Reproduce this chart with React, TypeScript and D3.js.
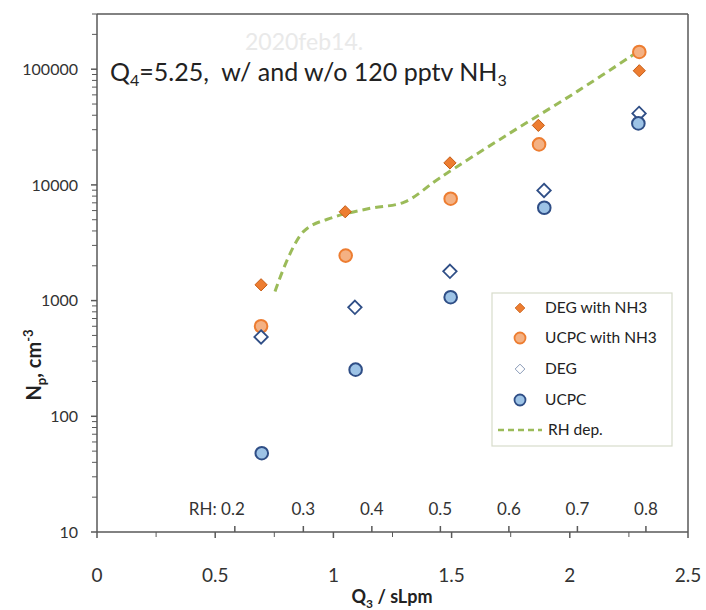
import React from "react";
import * as d3 from "d3";

// ---- data ----
const degNH3Q = [0.694, 1.05, 1.493, 1.867, 2.294];
const degNH3N = [1370, 5860, 15500, 32700, 97000];

const ucpcNH3Q = [0.694, 1.052, 1.496, 1.87, 2.294];
const ucpcNH3N = [600, 2450, 7600, 22400, 141000];

const degQ = [0.694, 1.091, 1.493, 1.891, 2.293];
const degN = [485, 875, 1790, 8950, 41500];

const ucpcQ = [0.697, 1.094, 1.496, 1.892, 2.29];
const ucpcN = [48, 253, 1070, 6350, 34000];

const rhDepQ = [0.753, 0.873, 1.0, 1.16, 1.3, 1.45, 1.74, 2.03, 2.284];
const rhDepN = [1200, 3950, 5250, 6300, 7100, 11500, 27500, 64000, 140000];

const xTicks = [0, 0.5, 1, 1.5, 2, 2.5];
const xMinorTicks = [0.25, 0.75, 1.25, 1.75, 2.25];
const yTicks = [10, 100, 1000, 10000, 100000];
const rhTicks = [0.2, 0.3, 0.4, 0.5, 0.6, 0.7, 0.8];

const legendLabels = ["DEG with NH3", "UCPC with NH3", "DEG", "UCPC", "RH dep."];

const W = 706;
const H = 610;
const L = 97, T = 14, R = 688, B = 532;
const FONT = "Lato, 'Open Sans', sans-serif";

const zip = (a: number[], b: number[]) => a.map((v, i) => [v, b[i]] as [number, number]);

export default function App() {
  const x = d3.scaleLinear().domain([0, 2.5]).range([L, R]);
  const y = d3.scaleLog().domain([10, 300000]).range([B, T]);
  const rhToQ = d3.scaleLinear().domain([0.2, 0.8]).range([0.583, 2.322]);

  const yMinor: number[] = [];
  for (let dec = 10; dec <= 100000; dec *= 10) {
    for (let k = 2; k <= 9; k++) {
      const v = dec * k;
      if (v <= 300000) yMinor.push(v);
    }
  }

  const line = d3
    .line<[number, number]>()
    .x((d) => x(d[0]))
    .y((d) => y(d[1]))
    .curve(d3.curveCatmullRom.alpha(0.5));

  const diamond = (s: number) => d3.symbol().type(d3.symbolDiamond2).size(s)() as string;

  const cOrange = "#ED7D31";
  const cOrangeDark = "#C55A11";
  const cOrangeLight = "#F4B183";
  const cBlueDark = "#2F4E86";
  const cBlueLight = "#9DC3E6";
  const cGreen = "#9BBB59";
  const axisCol = "#595959";

  const legX = 520, legTextX = 545;
  const legRows = [308, 338, 369, 400, 430];

  return (
    <svg
      width={W}
      height={H}
      style={{ position: "absolute", left: 0, top: 0, background: "#fff" }}
      fontFamily={FONT}
    >
      <rect x={0} y={0} width={W} height={H} fill="#fff" />
      {/* watermark */}
      <text x={245} y={50} fontSize={23} fill="#e9e9e9">2020feb14.</text>

      {/* frame */}
      <line x1={L} y1={T} x2={R} y2={T} stroke={axisCol} strokeWidth={1.5} />
      <line x1={R} y1={T} x2={R} y2={B} stroke={axisCol} strokeWidth={1.5} />

      {/* y axis */}
      <line x1={L} y1={T} x2={L} y2={B} stroke={axisCol} strokeWidth={1.5} />
      {yMinor.map((v) => (
        <line key={"ym" + v} x1={L - 5} x2={L} y1={y(v)} y2={y(v)} stroke={axisCol} strokeWidth={1} />
      ))}
      {yTicks.map((v) => (
        <g key={"y" + v}>
          <line x1={L - 6} x2={L} y1={y(v)} y2={y(v)} stroke={axisCol} strokeWidth={1.5} />
          <text x={78} y={y(v)} dy="0.35em" textAnchor="end" fontSize={16} fill="#333">
            {v}
          </text>
        </g>
      ))}

      {/* x axis */}
      <line x1={L} y1={B} x2={R} y2={B} stroke={axisCol} strokeWidth={1.5} />
      {xMinorTicks.map((v) => (
        <line key={"xm" + v} x1={x(v)} x2={x(v)} y1={B} y2={B + 5} stroke={axisCol} strokeWidth={1} />
      ))}
      {xTicks.map((v) => (
        <g key={"x" + v}>
          <line x1={x(v)} x2={x(v)} y1={B} y2={B + 6} stroke={axisCol} strokeWidth={1.5} />
          <text x={x(v)} y={575} dy="0.35em" textAnchor="middle" fontSize={19} fill="#333">
            {v}
          </text>
        </g>
      ))}

      {/* RH secondary axis */}
      {rhTicks.map((v, i) => (
        <g key={"rh" + v}>
          <line x1={x(rhToQ(v))} x2={x(rhToQ(v))} y1={B} y2={B - 6} stroke={axisCol} strokeWidth={1.5} />
          <text
            x={i === 0 ? x(rhToQ(v)) + 10 : x(rhToQ(v))}
            y={509}
            dy="0.35em"
            textAnchor={i === 0 ? "end" : "middle"}
            fontSize={17}
            fill="#333"
          >
            {i === 0 ? "RH: " + v : v.toFixed(1)}
          </text>
        </g>
      ))}

      {/* axis titles */}
      <text x={392} y={597} dy="0.35em" textAnchor="middle" fontSize={18} fontWeight="bold" fill="#222">
        Q<tspan fontSize={12} dy={5}>3</tspan>
        <tspan dy={-5}> / sLpm</tspan>
      </text>
      <text
        transform={`translate(34,365) rotate(-90)`}
        textAnchor="middle"
        dy="0.35em"
        fontSize={20}
        fontWeight="bold"
        fill="#222"
      >
        N<tspan fontSize={13} dy={5}>p</tspan>
        <tspan dy={-5}>, cm</tspan>
        <tspan fontSize={13} dy={-8}>-3</tspan>
      </text>

      {/* chart title */}
      <text x={110} y={81} fontSize={25} fill="#222" style={{ whiteSpace: "pre" }}>
        Q<tspan fontSize={16} dy={5}>4</tspan>
        <tspan dy={-5}>{"=5.25,  w/ and w/o 120 pptv NH"}</tspan>
        <tspan fontSize={16} dy={5}>3</tspan>
      </text>

      {/* RH dep line */}
      <path
        d={line(zip(rhDepQ, rhDepN)) as string}
        fill="none"
        stroke={cGreen}
        strokeWidth={3}
        strokeDasharray="8,5"
      />

      {/* DEG with NH3 */}
      {zip(degNH3Q, degNH3N).map(([q, n], i) => (
        <path
          key={"dn" + i}
          d={diamond(95)}
          transform={`translate(${x(q)},${y(n)})`}
          fill={cOrange}
          stroke={cOrangeDark}
          strokeWidth={1}
        />
      ))}
      {/* UCPC with NH3 */}
      {zip(ucpcNH3Q, ucpcNH3N).map(([q, n], i) => (
        <circle key={"un" + i} cx={x(q)} cy={y(n)} r={6.3} fill={cOrangeLight} stroke={cOrange} strokeWidth={2} />
      ))}
      {/* DEG */}
      {zip(degQ, degN).map(([q, n], i) => (
        <path
          key={"d" + i}
          d={diamond(115)}
          transform={`translate(${x(q)},${y(n)})`}
          fill="#fff"
          stroke={cBlueDark}
          strokeWidth={1.8}
        />
      ))}
      {/* UCPC */}
      {zip(ucpcQ, ucpcN).map(([q, n], i) => (
        <circle key={"u" + i} cx={x(q)} cy={y(n)} r={6.3} fill={cBlueLight} stroke={cBlueDark} strokeWidth={2} />
      ))}

      {/* legend */}
      <rect x={492} y={293} width={180} height={153} fill="#fff" stroke="#d8dccb" strokeWidth={1.2} />
      <path d={diamond(60)} transform={`translate(${legX},${legRows[0]})`} fill={cOrange} stroke={cOrangeDark} strokeWidth={0.8} />
      <circle cx={legX} cy={legRows[1]} r={5.5} fill={cOrangeLight} stroke={cOrange} strokeWidth={1.8} />
      <path d={diamond(60)} transform={`translate(${legX},${legRows[2]})`} fill="#fff" stroke="#8a9bb8" strokeWidth={1} />
      <circle cx={legX} cy={legRows[3]} r={5.5} fill={cBlueLight} stroke={cBlueDark} strokeWidth={1.8} />
      <line x1={498} x2={542} y1={legRows[4]} y2={legRows[4]} stroke={cGreen} strokeWidth={2.5} strokeDasharray="6,4" />
      {legendLabels.map((t, i) => (
        <text key={t} x={i === 4 ? 548 : legTextX} y={legRows[i]} dy="0.35em" fontSize={15.5} fill="#222">
          {t}
        </text>
      ))}
    </svg>
  );
}
